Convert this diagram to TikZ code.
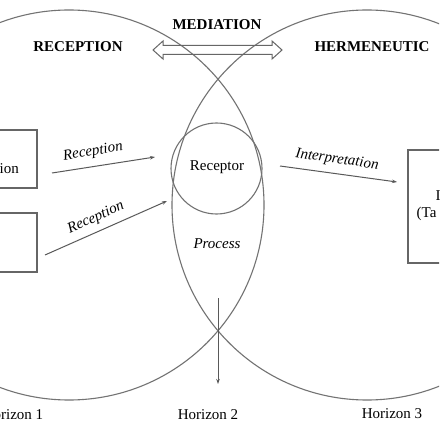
\documentclass[tikz,border=0pt]{standalone}
\usepackage{fontspec}
\setmainfont{Liberation Serif}
\usetikzlibrary{arrows.meta}
\begin{document}
\begin{tikzpicture}[x=1bp,y=1bp,
  horizon/.style={draw=black!55, line width=1.1bp, circle, inner sep=0pt},
  boxnode/.style={draw=black!60, line width=1.1bp, rectangle, inner sep=0pt},
  flow/.style={draw=black!65, line width=1bp, -{Stealth[length=5bp,width=3.5bp]}},
  txt/.style={font=\fontsize{15bp}{17bp}\selectfont, inner sep=0pt},
  bold/.style={font=\fontsize{15bp}{17bp}\selectfont\bfseries, inner sep=0pt},
  lab/.style={font=\fontsize{15bp}{17bp}\selectfont\itshape, inner sep=0pt}]
\useasboundingbox (0,-439) rectangle (439,0);
\clip (0,-439) rectangle (439,0);
\fill[white] (0,-439) rectangle (439,0);
% horizon circles
\node[horizon, minimum size=390bp] (H1) at (69,-205) {};
\node[horizon, minimum size=390bp] (H3) at (367,-205) {};
\node[horizon, minimum size=91bp] (R) at (216.5,-168.5) {};
% boxes
\node[boxnode, minimum width=80bp, minimum height=58bp] (B1) at (-3,-159) {};
\node[boxnode, minimum width=80bp, minimum height=59bp] (B2) at (-3,-242.5) {};
\node[boxnode, minimum width=80bp, minimum height=113bp] (B3) at (448,-206.5) {};
% texts
\node[bold] (med) at (217,-25) {MEDIATION};
\node[bold] (rec) at (78,-47) {RECEPTION};
\node[bold] (her) at (372,-47) {HERMENEUTIC};
\node[txt] (receptor) at (217,-167) {Receptor};
\node[lab] (process) at (217,-244) {Process};
\node[txt, anchor=east] (b1t) at (19,-169) {tion};
\node[txt, anchor=west] (b3a) at (435.5,-196) {I};
\node[txt, anchor=west] (b3b) at (416.5,-214) {(Ta};
\node[txt] (h1) at (13,-415) {Horizon 1};
\node[txt] (h2) at (208,-415) {Horizon 2};
\node[txt] (h3) at (392,-414) {Horizon 3};
% mediation double arrow
\draw[draw=black!60, line width=1bp, line join=miter]
  (153,-50) -- (163,-41) -- (163,-45.5) -- (272,-45.5) -- (272,-41) -- (282,-50)
  -- (272,-59) -- (272,-54.5) -- (163,-54.5) -- (163,-59) -- cycle;
% connectors
\coordinate (a1s) at (52,-173);
\coordinate (a1e) at (155,-157);
\coordinate (a2s) at (45,-255);
\coordinate (a2e) at (167,-201);
\coordinate (a3s) at (280,-166);
\coordinate (a3e) at (397,-182);
\coordinate (a4s) at (218,-298);
\coordinate (a4e) at (218,-384);
\draw[flow] (a1s) -- (a1e);
\draw[flow] (a2s) -- (a2e);
\draw[flow] (a3s) -- (a3e);
\draw[flow] (a4s) -- (a4e);
\node[lab, rotate=9] (l1) at (93,-152) {Reception};
\node[lab, rotate=24] (l2) at (96,-218) {Reception};
\node[lab, rotate=-8] (l3) at (337,-160) {Interpretation};
\end{tikzpicture}
\end{document}
